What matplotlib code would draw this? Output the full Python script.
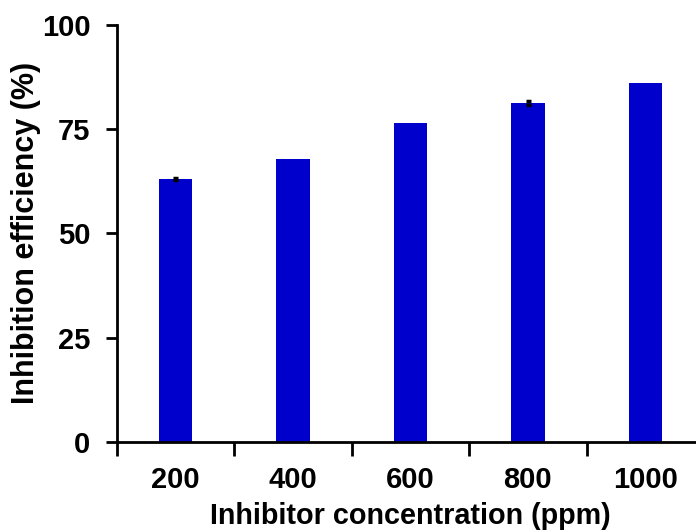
import matplotlib.pyplot as plt
import numpy as np

plt.rcParams['font.family'] = ['Liberation Sans', 'DejaVu Sans']
plt.rcParams['font.weight'] = 'bold'

concentrations = ["200", "400", "600", "800", "1000"]
efficiency = [63.0, 67.8, 76.4, 81.2, 86.0]
errors = [0.3, 0.0, 0.0, 0.5, 0.0]

fig = plt.figure(figsize=(6.96, 5.31), dpi=100)
ax = fig.add_axes([0.1677, 0.1682, 0.8438, 0.7847])

x = np.arange(len(concentrations))
ax.bar(x, efficiency, width=0.285, color="#0000CC", zorder=2)

# only the points with a visible spread get an error bar
has_err = np.array(errors) > 0
ax.errorbar(x[has_err], np.array(efficiency)[has_err], yerr=np.array(errors)[has_err],
            fmt="none", ecolor="black", elinewidth=1.5, capsize=1.8, capthick=2.5, zorder=3)

ax.set_xlim(-0.5, len(concentrations) - 0.5)
ax.set_ylim(0, 100)
ax.set_yticks([0, 25, 50, 75, 100])

# category ticks sit between bars, labels under the bars
ax.set_xticks(np.arange(-0.5, len(concentrations)), labels=[])
ax.set_xticks(x, labels=concentrations, minor=True)
ax.tick_params(axis="x", which="major", direction="out", length=10, width=2)
ax.tick_params(axis="x", which="minor", length=0, pad=17.5, labelsize=21)
ax.tick_params(axis="y", direction="out", length=8, width=2, labelsize=21, pad=11)

for side in ["top", "right"]:
    ax.spines[side].set_visible(False)
for side in ["left", "bottom"]:
    ax.spines[side].set_linewidth(2)

ax.set_xlabel("Inhibitor concentration (ppm)", fontsize=20.7, fontweight="bold", labelpad=5.5)
ax.set_ylabel("Inhibition efficiency (%)", fontsize=22, fontweight="bold", labelpad=0.5)

fig.savefig("out.png", dpi=100)
